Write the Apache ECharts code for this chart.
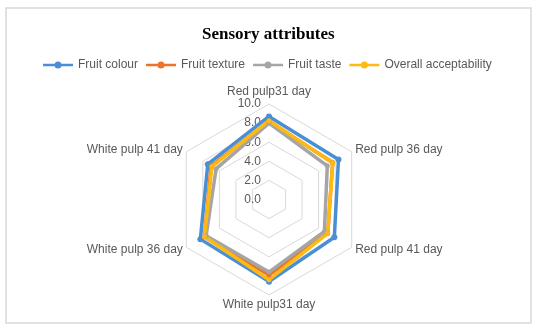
<!DOCTYPE html>
<html>
<head>
<meta charset="utf-8">
<script src="https://cdn.jsdelivr.net/npm/echarts@6/dist/echarts.min.js"></script>
<style>html,body{margin:0;padding:0;background:#fff;}#c{width:548px;height:330px;}</style>
</head>
<body>
<div id="c"></div>
<script>
// Categories in clockwise order starting from top (as in reference)
var categories = ['Red pulp31 day', 'Red pulp 36 day', 'Red pulp 41 day', 'White pulp31 day', 'White pulp 36 day', 'White pulp 41 day'];
var seriesNames = ['Fruit colour', 'Fruit texture', 'Fruit taste', 'Overall acceptability'];
var fruitColour = [8.7, 8.4, 7.9, 8.6, 8.3, 7.4];
var fruitTexture = [8.2, 7.7, 7.1, 7.9, 7.8, 7.0];
var fruitTaste = [8.0, 7.05, 6.7, 7.6, 7.6, 6.4];
var overallAcceptability = [8.25, 7.7, 7.1, 8.4, 7.8, 6.9];
var axisMin = 0, axisMax = 10, axisSplits = 5;
var colors = ['#4a8fd6', '#ec7426', '#a5a5a5', '#fdba13'];

// ECharts places indicators counter-clockwise; reorder to draw clockwise
var order = [0, 5, 4, 3, 2, 1];
function reorder(arr) { return order.map(function (i) { return arr[i]; }); }

var indicators = reorder(categories).map(function (name, k) {
  var ind = { name: name, min: axisMin, max: axisMax };
  if (k === 0) ind.axisLabel = { show: true };
  return ind;
});

var allData = [fruitColour, fruitTexture, fruitTaste, overallAcceptability];
var iconPath = 'path://M0,2.2 H30 V4.8 H0 Z M11.5,3.5 A3.5,3.5 0 1 1 18.5,3.5 A3.5,3.5 0 1 1 11.5,3.5 Z';

var chart = echarts.init(document.getElementById('c'), null, { renderer: 'canvas' });
chart.setOption({
  animation: false,
  backgroundColor: '#fff',
  graphic: [{
    type: 'rect', shape: { x: 6, y: 8, width: 525, height: 315 },
    style: { fill: 'none', stroke: '#d9d9d9', lineWidth: 1.5 }, silent: true, z: -1
  }],
  title: {
    text: 'Sensory attributes', left: 197, top: 21,
    textStyle: { fontFamily: 'Liberation Serif', fontWeight: 'bold', fontSize: 17, color: '#000' }
  },
  legend: {
    top: 59, left: 43, padding: 0, itemWidth: 30, itemHeight: 7, itemGap: 8,
    textStyle: { color: '#595959', fontSize: 12, fontFamily: 'Liberation Sans' },
    data: seriesNames.map(function (n) { return { name: n, icon: iconPath }; })
  },
  radar: {
    center: [269, 199.5], radius: 95.5, startAngle: 90, shape: 'polygon',
    splitNumber: axisSplits,
    axisName: { color: '#595959', fontSize: 12, fontFamily: 'Liberation Sans' },
    nameGap: 4,
    axisLine: { show: false },
    splitArea: { show: false },
    splitLine: { lineStyle: { color: '#d9d9d9', width: 1 } },
    axisTick: { show: false },
    axisLabel: { show: false, color: '#595959', fontSize: 12, fontFamily: 'Liberation Sans',
      formatter: function (v) { return v.toFixed(1); } },
    indicator: indicators
  },
  series: [{
    type: 'radar',
    data: allData.map(function (arr, i) {
      return {
        name: seriesNames[i], value: reorder(arr),
        symbol: 'circle', symbolSize: i === 0 ? 6 : 5,
        lineStyle: { color: colors[i], width: 3.5 },
        itemStyle: { color: colors[i] }
      };
    })
  }],
  color: colors
});
</script>
</body>
</html>
